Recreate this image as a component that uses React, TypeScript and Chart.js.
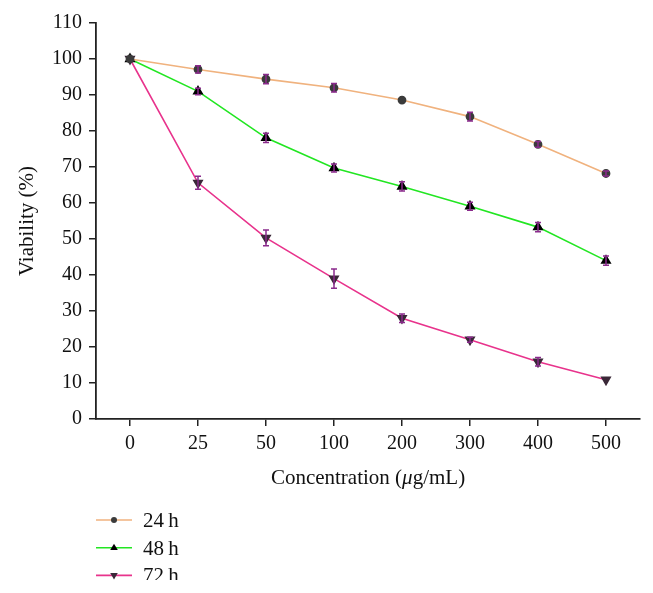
import React, { useEffect, useRef } from "react";
import { Chart, registerables } from "chart.js";

Chart.register(...registerables);

const categories = ["0", "25", "50", "100", "200", "300", "400", "500"];
const seriesNames = ["24\u2009h", "48\u2009h", "72\u2009h"];
const values24 = [100, 97.1, 94.4, 92.0, 88.6, 84.0, 76.3, 68.2];
const err24 = [0.4, 1.0, 1.3, 1.2, 0.3, 1.2, 0.8, 0.7];
const values48 = [100, 91.0, 78.1, 69.7, 64.6, 59.1, 53.3, 44.0];
const err48 = [0.4, 0.9, 1.3, 1.1, 1.3, 1.1, 1.3, 1.3];
const values72 = [100, 65.6, 50.3, 39.0, 28.0, 22.0, 15.9, 10.9];
const err72 = [0.4, 1.8, 2.2, 2.7, 1.2, 0.7, 1.2, 0.3];
const yTicks = [0, 10, 20, 30, 40, 50, 60, 70, 80, 90, 100, 110];

const FONT = '"Liberation Serif", "DejaVu Serif", serif';
const ERR_COLOR = "#8a2a8c";

function drawMarker(ctx: CanvasRenderingContext2D, style: string, x: number, y: number, r: number, color: string) {
  ctx.save();
  ctx.fillStyle = color;
  ctx.beginPath();
  if (style === "circle") {
    ctx.arc(x, y, r, 0, Math.PI * 2);
  } else if (style === "up") {
    ctx.moveTo(x, y - r);
    ctx.lineTo(x + r * 0.95, y + r * 0.6);
    ctx.lineTo(x - r * 0.95, y + r * 0.6);
    ctx.closePath();
  } else {
    ctx.moveTo(x, y + r);
    ctx.lineTo(x + r * 0.95, y - r * 0.6);
    ctx.lineTo(x - r * 0.95, y - r * 0.6);
    ctx.closePath();
  }
  ctx.fill();
  ctx.restore();
}

export default function App() {
  const ref = useRef<HTMLCanvasElement | null>(null);
  useEffect(() => {
    if (!ref.current) return;
    const errs = [err24, err48, err72];
    const legendStyles = ["circle", "up", "down"];
    const markerColors = ["#3b3b3b", "#000000", "#3a2838"];

    const errorBars = {
      id: "errorBars",
      afterDatasetsDraw(chart: any) {
        const ctx = chart.ctx;
        const y = chart.scales.y;
        ctx.save();
        ctx.strokeStyle = ERR_COLOR;
        ctx.lineWidth = 1.5;
        chart.data.datasets.forEach((ds: any, i: number) => {
          const meta = chart.getDatasetMeta(i);
          meta.data.forEach((pt: any, j: number) => {
            const v = ds.data[j];
            const e = errs[i][j];
            if (e < 0.5) return;
            const yt = y.getPixelForValue(v + e);
            const yb = y.getPixelForValue(v - e);
            const x = pt.x;
            ctx.beginPath();
            ctx.moveTo(x, yt);
            ctx.lineTo(x, yb);
            ctx.moveTo(x - 3, yt);
            ctx.lineTo(x + 3, yt);
            ctx.moveTo(x - 3, yb);
            ctx.lineTo(x + 3, yb);
            ctx.stroke();
          });
        });
        ctx.restore();
      },
    };

    const extras = {
      id: "extras",
      afterDraw(chart: any) {
        const ctx = chart.ctx;
        const area = chart.chartArea;
        ctx.save();
        ctx.fillStyle = "#111";
        ctx.textBaseline = "middle";
        const p1 = "Concentration (";
        const p2 = "\u03bc";
        const p3 = "g/mL)";
        ctx.font = `21px ${FONT}`;
        const w1 = ctx.measureText(p1).width;
        const w3 = ctx.measureText(p3).width;
        ctx.font = `italic 21px ${FONT}`;
        const w2 = ctx.measureText(p2).width;
        const total = w1 + w2 + w3;
        let x = (area.left + area.right) / 2 - total / 2;
        const ty = area.bottom + 59;
        ctx.textAlign = "left";
        ctx.font = `21px ${FONT}`;
        ctx.fillText(p1, x, ty);
        x += w1;
        ctx.font = `italic 21px ${FONT}`;
        ctx.fillText(p2, x, ty);
        x += w2;
        ctx.font = `21px ${FONT}`;
        ctx.fillText(p3, x, ty);

        ctx.save();
        ctx.translate(27, (area.top + area.bottom) / 2);
        ctx.rotate(-Math.PI / 2);
        ctx.textAlign = "center";
        ctx.font = `21px ${FONT}`;
        ctx.fillText("Viability (%)", 0, 0);
        ctx.restore();

        chart.data.datasets.forEach((ds: any, i: number) => {
          const ly = area.bottom + 101 + i * 27.7;
          const lx = area.left;
          ctx.strokeStyle = ds.borderColor;
          ctx.lineWidth = 1.6;
          ctx.beginPath();
          ctx.moveTo(lx, ly);
          ctx.lineTo(lx + 36, ly);
          ctx.stroke();
          drawMarker(ctx, legendStyles[i], lx + 18, ly, i === 0 ? 3 : 4, markerColors[i]);
          ctx.fillStyle = "#111";
          ctx.font = `21px ${FONT}`;
          ctx.textAlign = "left";
          ctx.textBaseline = "alphabetic";
          ctx.fillText(seriesNames[i], lx + 47, ly + 7);
        });
        ctx.restore();
      },
    };

    const chart = new Chart(ref.current, {
      type: "line",
      data: {
        labels: categories,
        datasets: [
          {
            label: seriesNames[0],
            data: values24,
            borderColor: "#f0b27e",
            backgroundColor: markerColors[0],
            pointBackgroundColor: markerColors[0],
            pointBorderColor: markerColors[0],
            pointStyle: "circle",
            pointRadius: 3.6,
            borderWidth: 1.6,
            tension: 0,
          },
          {
            label: seriesNames[1],
            data: values48,
            borderColor: "#22e622",
            backgroundColor: markerColors[1],
            pointBackgroundColor: markerColors[1],
            pointBorderColor: markerColors[1],
            pointStyle: "triangle",
            pointRadius: 4.8,
            borderWidth: 1.6,
            tension: 0,
          },
          {
            label: seriesNames[2],
            data: values72,
            borderColor: "#e8338c",
            backgroundColor: markerColors[2],
            pointBackgroundColor: markerColors[2],
            pointBorderColor: markerColors[2],
            pointStyle: "triangle",
            pointRotation: 180,
            pointRadius: 4.8,
            borderWidth: 1.6,
            tension: 0,
          },
        ],
      },
      options: {
        animation: false,
        responsive: false,
        devicePixelRatio: 1,
        layout: { padding: { top: 23, right: 13, left: 0, bottom: 0 } },
        plugins: { legend: { display: false }, tooltip: { enabled: false }, title: { display: false } },
        scales: {
          x: {
            type: "category",
            offset: true,
            grid: { drawOnChartArea: false, drawTicks: true, tickLength: 7, color: "#222", lineWidth: 1.5, offset: false },
            border: { display: true, color: "#222", width: 1.8 },
            ticks: { color: "#111", font: { family: FONT, size: 20 }, padding: 6, maxRotation: 0 },
            afterFit: (s: any) => {
              s.height = 161;
            },
          },
          y: {
            min: 0,
            max: 110,
            afterBuildTicks: (s: any) => {
              s.ticks = yTicks.map((v) => ({ value: v }));
            },
            grid: { drawOnChartArea: false, drawTicks: true, tickLength: 7, color: "#222", lineWidth: 1.5 },
            border: { display: true, color: "#222", width: 1.8 },
            ticks: { color: "#111", font: { family: FONT, size: 20 }, padding: 7 },
            afterFit: (s: any) => {
              s.width = 96;
            },
          },
        },
      },
      plugins: [errorBars, extras],
    });
    return () => chart.destroy();
  }, []);

  return (
    <div style={{ position: "fixed", left: 0, top: 0, width: 653, height: 580, background: "#fff", overflow: "hidden" }}>
      <canvas ref={ref} width={653} height={580} style={{ width: 653, height: 580, display: "block" }} />
    </div>
  );
}
